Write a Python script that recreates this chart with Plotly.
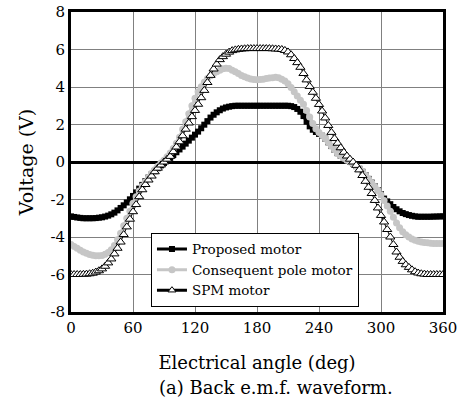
import plotly.graph_objects as go

angles = list(range(0, 361, 3))

proposed = [
    -2.90, -2.93, -2.96, -2.98, -3.00, -3.00, -3.00, -3.00, -2.99, -2.97,
    -2.95, -2.91, -2.86, -2.79, -2.70, -2.58, -2.45, -2.31, -2.16, -1.99,
    -1.81, -1.62, -1.42, -1.22, -1.02, -0.83, -0.66, -0.49, -0.33, -0.18,
    -0.05, 0.08, 0.22, 0.37, 0.52, 0.67, 0.82, 0.98, 1.14, 1.30,
    1.46, 1.62, 1.80, 1.99, 2.18, 2.37, 2.52, 2.65, 2.76, 2.85,
    2.91, 2.95, 2.98, 3.00, 3.00, 3.00, 3.00, 3.00, 3.00, 3.00,
    3.00, 3.00, 3.00, 3.00, 3.00, 3.00, 3.00, 3.00, 3.00, 3.00,
    3.00, 2.98, 2.93, 2.83, 2.68, 2.45, 2.15, 1.90, 1.72, 1.60,
    1.50, 1.40, 1.25, 1.05, 0.85, 0.65, 0.47, 0.33, 0.20, 0.10,
    0.00, -0.10, -0.22, -0.36, -0.52, -0.70, -0.90, -1.10, -1.30, -1.50,
    -1.72, -1.95, -2.10, -2.25, -2.40, -2.52, -2.63, -2.72, -2.78, -2.83,
    -2.87, -2.90, -2.92, -2.92, -2.92, -2.92, -2.92, -2.91, -2.91, -2.90,
    -2.90,
]

consequent = [
    -4.40, -4.50, -4.60, -4.70, -4.80, -4.87, -4.93, -4.97, -5.00, -5.00,
    -4.98, -4.92, -4.82, -4.68, -4.45, -4.15, -3.80, -3.40, -3.00, -2.62,
    -2.20, -1.85, -1.55, -1.28, -1.05, -0.82, -0.60, -0.41, -0.22, -0.05,
    0.10, 0.28, 0.48, 0.72, 1.00, 1.32, 1.75, 2.15, 2.58, 3.00,
    3.40, 3.75, 4.02, 4.25, 4.45, 4.60, 4.72, 4.82, 4.90, 4.97,
    5.00, 4.98, 4.90, 4.82, 4.72, 4.62, 4.55, 4.48, 4.43, 4.40,
    4.39, 4.40, 4.42, 4.45, 4.48, 4.50, 4.52, 4.50, 4.42, 4.32,
    4.18, 3.98, 3.75, 3.52, 3.30, 3.08, 2.75, 2.40, 2.05, 1.78,
    1.58, 1.42, 1.25, 1.05, 0.85, 0.65, 0.47, 0.33, 0.20, 0.10,
    0.00, -0.10, -0.22, -0.36, -0.52, -0.70, -0.90, -1.10, -1.30, -1.50,
    -1.75, -2.05, -2.35, -2.62, -2.95, -3.25, -3.50, -3.72, -3.88, -4.00,
    -4.10, -4.17, -4.22, -4.26, -4.29, -4.31, -4.33, -4.34, -4.35, -4.35,
    -4.35,
]

spm = [
    -6.00, -6.00, -6.00, -6.00, -5.99, -5.98, -5.96, -5.93, -5.87, -5.80,
    -5.70, -5.56, -5.38, -5.17, -4.90, -4.60, -4.27, -3.87, -3.46, -3.05,
    -2.65, -2.27, -1.85, -1.48, -1.20, -0.96, -0.75, -0.52, -0.33, -0.16,
    0.00, 0.15, 0.30, 0.55, 0.80, 1.08, 1.40, 1.75, 2.08, 2.42,
    2.75, 3.08, 3.43, 3.82, 4.24, 4.62, 4.96, 5.22, 5.46, 5.62,
    5.75, 5.86, 5.94, 5.98, 6.01, 6.03, 6.04, 6.05, 6.05, 6.05,
    6.05, 6.05, 6.05, 6.05, 6.05, 6.04, 6.03, 6.02, 6.00, 5.95,
    5.87, 5.72, 5.52, 5.30, 5.05, 4.72, 4.38, 4.03, 3.72, 3.40,
    3.07, 2.72, 2.35, 1.95, 1.58, 1.25, 1.00, 0.76, 0.52, 0.32,
    0.15, 0.00, -0.18, -0.42, -0.72, -1.03, -1.35, -1.68, -2.05, -2.45,
    -2.85, -3.20, -3.60, -4.00, -4.40, -4.80, -5.08, -5.30, -5.48, -5.62,
    -5.75, -5.85, -5.92, -5.96, -5.98, -6.00, -6.00, -6.00, -6.00, -6.00,
    -6.00,
]

x_ticks = [0, 60, 120, 180, 240, 300, 360]
y_ticks = [-8, -6, -4, -2, 0, 2, 4, 6, 8]

names = ["Proposed motor", "Consequent pole motor", "SPM motor"]

FONT = "DejaVu Serif"
GRAY = "#c6c6c6"

fig = go.Figure()

# data traces
fig.add_trace(go.Scatter(
    x=angles, y=proposed, mode="lines+markers", showlegend=False,
    line=dict(color="black", width=3),
    marker=dict(symbol="square", size=6, color="black"),
))
fig.add_trace(go.Scatter(
    x=angles, y=consequent, mode="lines+markers", showlegend=False,
    line=dict(color=GRAY, width=3),
    marker=dict(symbol="circle", size=7, color=GRAY),
))
fig.add_trace(go.Scatter(
    x=angles, y=spm, mode="lines+markers", showlegend=False,
    line=dict(color="black", width=1),
    marker=dict(symbol="triangle-up", size=8, color="white",
                line=dict(color="black", width=1)),
))

# legend entries
fig.add_trace(go.Scatter(
    x=[None], y=[None], mode="lines+markers", name=names[0],
    line=dict(color="black", width=3),
    marker=dict(symbol="square", size=6, color="black"),
))
fig.add_trace(go.Scatter(
    x=[None], y=[None], mode="lines+markers", name=names[1],
    line=dict(color=GRAY, width=3),
    marker=dict(symbol="circle", size=7, color=GRAY),
))
fig.add_trace(go.Scatter(
    x=[None], y=[None], mode="lines+markers", name=names[2],
    line=dict(color="black", width=3),
    marker=dict(symbol="triangle-up", size=7, color="white",
                line=dict(color="black", width=1)),
))

fig.update_layout(
    width=468, height=400,
    margin=dict(l=71, r=25, t=12, b=88),
    paper_bgcolor="white", plot_bgcolor="white",
    font=dict(family=FONT, color="black", size=15),
    legend=dict(
        x=0.215, y=0.264, xanchor="left", yanchor="top",
        bgcolor="white", bordercolor="black", borderwidth=1,
        font=dict(family=FONT, size=13.5, color="black"),
        tracegroupgap=0, itemwidth=30,
    ),
    xaxis=dict(
        range=[0, 360], tickvals=x_ticks, ticktext=[str(v) for v in x_ticks],
        showgrid=True, gridcolor="#808080", gridwidth=1,
        showline=True, linecolor="black", linewidth=3, mirror=True,
        zeroline=False, ticks="", automargin=False,
        tickfont=dict(family=FONT, size=15, color="black"),
        title=dict(text="Electrical angle (deg)", standoff=21,
                   font=dict(family=FONT, size=18, color="black")),
    ),
    yaxis=dict(
        range=[-8, 8], tickvals=y_ticks, ticktext=[str(v) for v in y_ticks],
        showgrid=True, gridcolor="#808080", gridwidth=1,
        showline=True, linecolor="black", linewidth=3, mirror=True,
        zeroline=True, zerolinecolor="black", zerolinewidth=3, ticks="",
        automargin=False,
        tickfont=dict(family=FONT, size=15, color="black"),
        title=dict(text="Voltage (V)", standoff=12,
                   font=dict(family=FONT, size=19, color="black")),
    ),
    annotations=[dict(
        text="(a) Back e.m.f. waveform.", xref="paper", yref="paper",
        x=0.552, y=-0.253, xanchor="center", yanchor="middle",
        showarrow=False, font=dict(family=FONT, size=18, color="black"),
    )],
)

fig.write_html("out.html")
